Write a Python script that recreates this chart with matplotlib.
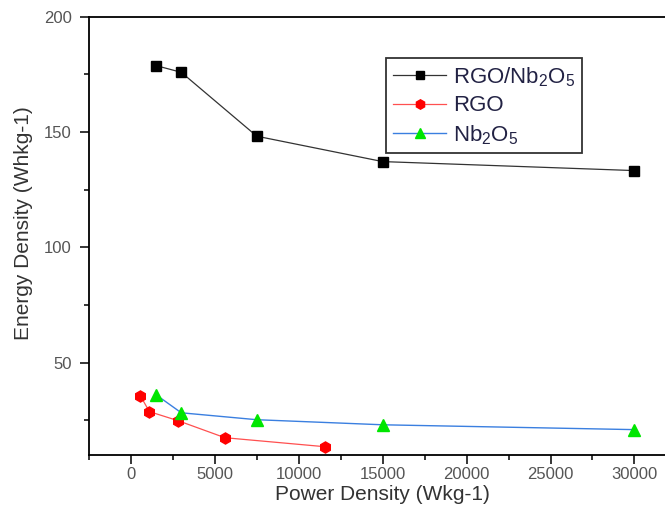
import numpy as np
import matplotlib
matplotlib.use("Agg")
import matplotlib.pyplot as plt
from matplotlib.ticker import MultipleLocator

plt.rcParams['font.family'] = ['Liberation Sans', 'DejaVu Sans']
plt.rcParams['mathtext.default'] = 'regular'

# data
rgo_nb_x = [1500, 3000, 7500, 15000, 30000]
rgo_nb_y = [178.8, 175.9, 148.2, 137.2, 133.3]

rgo_x = [560, 1100, 2800, 5600, 11550]
rgo_y = [35.7, 28.8, 24.9, 17.5, 13.6]

nb_x = [1500, 3000, 7500, 15000, 30000]
nb_y = [36.1, 28.3, 25.3, 23.1, 21.0]

labels = [r'RGO/Nb$_2$O$_5$', 'RGO', r'Nb$_2$O$_5$']

fig = plt.figure(figsize=(6.65, 5.16), dpi=100)
ax = fig.add_axes([0.1338, 0.1182, 0.8833, 0.8494])

ax.plot(rgo_nb_x, rgo_nb_y, color='#333333', lw=0.9, marker='s', ms=7,
        mfc='black', mec='black', label=labels[0])
ax.plot(rgo_x, rgo_y, color='#ff5050', lw=0.9, marker='h', ms=8,
        mfc='#ff0000', mec='#ff0000', label=labels[1])
ax.plot(nb_x, nb_y, color='#3a7fe0', lw=1.0, marker='^', ms=9,
        mfc='#00e600', mec='#00e600', label=labels[2])

ax.set_xlim(-2500, 32500)
ax.set_ylim(10, 200)
ax.xaxis.set_major_locator(MultipleLocator(5000))
ax.xaxis.set_minor_locator(MultipleLocator(2500))
ax.yaxis.set_major_locator(MultipleLocator(50))
ax.yaxis.set_minor_locator(MultipleLocator(25))
ax.set_yticks([50, 100, 150, 200])

ax.tick_params(which='major', direction='out', length=6.5, width=1.1,
               labelsize=12, labelcolor='#555555')
ax.tick_params(axis='y', which='major', pad=6)
ax.tick_params(axis='x', which='major', pad=2)
ax.tick_params(which='minor', direction='out', length=3.5, width=1.1)
for s in ax.spines.values():
    s.set_linewidth(1.3)
ax.spines['right'].set_visible(False)

ax.set_xlabel('Power Density (Wkg-1)', fontsize=15, color='#333333', labelpad=2)
ax.set_ylabel('Energy Density (Whkg-1)', fontsize=15, color='#333333', labelpad=8)
ax.yaxis.label.set_y(0.53)

leg = ax.legend(loc='upper left', bbox_to_anchor=(0.506, 0.905), fontsize=16,
                frameon=True, fancybox=False, edgecolor='black',
                handlelength=2.4, handletextpad=0.3, borderpad=0.3,
                labelspacing=0.3, borderaxespad=0, markerscale=0.85)
leg.get_frame().set_linewidth(1.3)
for t in leg.get_texts():
    t.set_color('#222244')

fig.savefig('out.png', dpi=100)
